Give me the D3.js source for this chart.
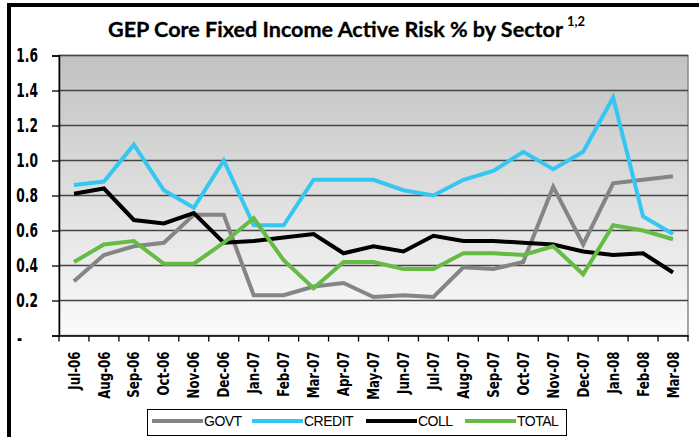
<!DOCTYPE html>
<html>
<head>
<meta charset="utf-8">
<script src="https://cdn.jsdelivr.net/npm/d3@7"></script>
<style>
  body { margin: 0; background: #fff; }
  svg { display: block; }
</style>
</head>
<body>
<svg></svg>
<script>
const months = ['Jul-06', 'Aug-06', 'Sep-06', 'Oct-06', 'Nov-06', 'Dec-06', 'Jan-07',
    'Feb-07', 'Mar-07', 'Apr-07', 'May-07', 'Jun-07', 'Jul-07', 'Aug-07', 'Sep-07',
    'Oct-07', 'Nov-07', 'Dec-07', 'Jan-08', 'Feb-08', 'Mar-08']
const govt = [0.31, 0.46, 0.51, 0.53, 0.69, 0.69, 0.23, 0.23, 0.28, 0.30, 0.22,
    0.23, 0.22, 0.39, 0.38, 0.42, 0.85, 0.52, 0.87, 0.89, 0.91]
const credit = [0.86, 0.88, 1.09, 0.83, 0.73, 1.00, 0.63, 0.63, 0.89, 0.89, 0.89,
    0.83, 0.80, 0.89, 0.94, 1.05, 0.95, 1.05, 1.36, 0.68, 0.58]
const coll = [0.81, 0.84, 0.66, 0.64, 0.70, 0.53, 0.54, 0.56, 0.58, 0.47, 0.51,
    0.48, 0.57, 0.54, 0.54, 0.53, 0.52, 0.48, 0.46, 0.47, 0.36]
const total = [0.42, 0.52, 0.54, 0.41, 0.41, 0.53, 0.67, 0.43, 0.27, 0.42, 0.42,
    0.38, 0.38, 0.47, 0.47, 0.46, 0.51, 0.35, 0.63, 0.60, 0.55]
const yTicks = [0, 0.2, 0.4, 0.6, 0.8, 1.0, 1.2, 1.4, 1.6]

const series = [
    { name: 'GOVT', values: govt, color: '#858585' },
    { name: 'CREDIT', values: credit, color: '#36c6f2' },
    { name: 'COLL', values: coll, color: '#000000' },
    { name: 'TOTAL', values: total, color: '#66bb45' }
]

const width = 699,
    height = 437
const plotLeft = 59,
    plotRight = 688,
    plotTop = 55.5,
    plotBottom = 335.5
const narrow = '"DejaVu Sans Condensed", "DejaVu Sans", sans-serif'
const ySquash = 0.68,
    xSquash = 0.82

const svg = d3.select('svg').attr('width', width).attr('height', height)

const x = d3.scaleBand().domain(months).range([plotLeft, plotRight])
const y = d3.scaleLinear().domain([0, 1.6]).range([plotBottom, plotTop])

// background gradient
const grad = svg.append('defs').append('linearGradient')
    .attr('id', 'bg').attr('x1', 0).attr('y1', 0).attr('x2', 0).attr('y2', 1)
grad.append('stop').attr('offset', 0).attr('stop-color', '#c2c2c2')
grad.append('stop').attr('offset', 1).attr('stop-color', '#fbfbfb')

// outer frame (only left and top show)
svg.append('rect')
    .attr('x', 9).attr('y', 5)
    .attr('width', 720).attr('height', 460)
    .attr('fill', 'none').attr('stroke', '#000').attr('stroke-width', 4)

svg.append('rect')
    .attr('x', plotLeft).attr('y', plotTop)
    .attr('width', plotRight - plotLeft).attr('height', plotBottom - plotTop)
    .attr('fill', 'url(#bg)')
    .attr('stroke', '#888').attr('stroke-width', 1.5)

// gridlines
svg.append('g')
    .selectAll('line')
    .data(yTicks.filter((d) => d > 0))
    .join('line')
    .attr('x1', plotLeft).attr('x2', plotRight)
    .attr('y1', (d) => y(d)).attr('y2', (d) => y(d))
    .attr('stroke', '#444').attr('stroke-width', 1.3)

// title
svg.append('text')
    .attr('x', 108).attr('y', 37)
    .attr('textLength', 455).attr('lengthAdjust', 'spacingAndGlyphs')
    .style('font-family', 'Lato, "Open Sans", sans-serif')
    .style('font-weight', 'bold')
    .style('font-size', '21.5px')
    .attr('fill', '#000')
    .attr('stroke', '#000').attr('stroke-width', 0.3)
    .text('GEP Core Fixed Income Active Risk % by Sector')
svg.append('text')
    .attr('x', 567).attr('y', 26)
    .style('font-family', 'Lato, "Open Sans", sans-serif')
    .style('font-weight', 'bold')
    .style('font-size', '13px')
    .attr('fill', '#000')
    .text('1,2')

// y axis
const yAxis = svg.append('g')
    .attr('transform', `translate(${plotLeft},0)`)
    .call(d3.axisLeft(y).tickValues(yTicks).tickSize(7).tickPadding(14)
        .tickFormat((d) => (d === 0 ? '-' : d.toFixed(1))))
yAxis.select('.domain').attr('stroke', '#000').attr('stroke-width', 1.5)
yAxis.selectAll('.tick line').attr('stroke', '#000').attr('stroke-width', 1.3)
yAxis.selectAll('.tick text')
    .attr('transform', `scale(${ySquash},1)`)
    .attr('x', -21 / ySquash)
    .style('font-family', narrow)
    .style('font-weight', 'bold')
    .style('font-size', '20px')
    .attr('fill', '#000')
yAxis.selectAll('.tick')
    .filter((d) => d === 0)
    .select('text')
    .attr('x', -37 / ySquash).attr('dy', '0.45em')

// x axis
const xAxis = svg.append('g')
    .attr('transform', `translate(0,${plotBottom})`)
    .call(d3.axisBottom(x).tickSize(0).tickPadding(0))
xAxis.select('.domain').attr('stroke', '#000').attr('stroke-width', 1.5)
xAxis.selectAll('.tick text')
    .attr('transform', `rotate(-90) scale(${xSquash},1)`)
    .attr('text-anchor', 'end')
    .attr('x', -16 / xSquash).attr('y', 0).attr('dy', '0.35em')
    .style('font-family', narrow)
    .style('font-weight', 'bold')
    .style('font-size', '16px')
    .attr('fill', '#000')
svg.append('g')
    .selectAll('line')
    .data(months.concat(['end']))
    .join('line')
    .attr('x1', (d) => (d === 'end' ? plotRight : x(d)))
    .attr('x2', (d) => (d === 'end' ? plotRight : x(d)))
    .attr('y1', plotBottom).attr('y2', plotBottom + 6)
    .attr('stroke', '#000').attr('stroke-width', 1.3)

// lines
const line = d3.line()
    .x((d, i) => x(months[i]) + x.bandwidth() / 2)
    .y((d) => y(d))
svg.append('g')
    .selectAll('path')
    .data(series)
    .join('path')
    .attr('d', (d) => line(d.values))
    .attr('fill', 'none')
    .attr('stroke', (d) => d.color)
    .attr('stroke-width', 4)
    .attr('stroke-linejoin', 'miter')

// legend
svg.append('rect')
    .attr('x', 147.5).attr('y', 409.5)
    .attr('width', 419).attr('height', 26)
    .attr('fill', '#fff').attr('stroke', '#000').attr('stroke-width', 1)
const legendX = [152, 252, 366, 465]
const items = svg.append('g')
    .selectAll('g')
    .data(series)
    .join('g')
    .attr('transform', (d, i) => `translate(${legendX[i]},421)`)
items.append('line')
    .attr('x1', 0).attr('x2', 51)
    .attr('stroke', (d) => d.color)
    .attr('stroke-width', 4)
items.append('text')
    .attr('x', 52).attr('dy', '0.36em')
    .style('font-family', '"Liberation Sans", Arial, sans-serif')
    .style('font-size', '14px')
    .style('letter-spacing', '-0.5px')
    .attr('fill', '#000')
    .text((d) => d.name)
</script>
</body>
</html>
